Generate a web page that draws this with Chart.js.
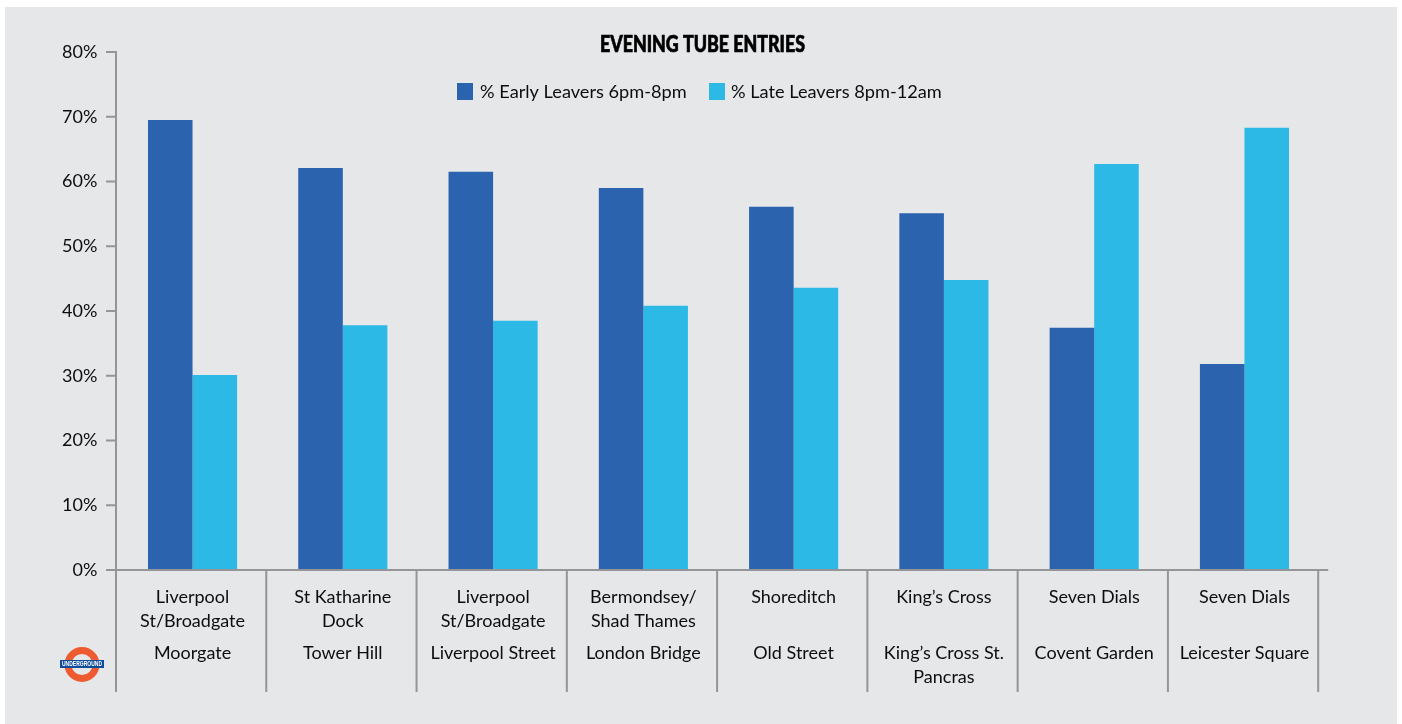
<!DOCTYPE html>
<html>
<head>
<meta charset="utf-8">
<style>
  html, body { margin: 0; padding: 0; background: #ffffff; }
  #panel { position: absolute; left: 5px; top: 7px; width: 1392px; height: 717px; background: #e6e7e9; }
  #wrap { position: absolute; left: 0; top: 0; width: 1402px; height: 724px; }
</style>
<script src="https://cdn.jsdelivr.net/npm/chart.js@4/dist/chart.umd.min.js"></script>
</head>
<body>
<div id="panel"></div>
<div id="wrap"><canvas id="chart" width="1402" height="724"></canvas></div>
<script>
const entryAreas = [
  ['Liverpool', 'St/Broadgate'],
  ['St Katharine', 'Dock'],
  ['Liverpool', 'St/Broadgate'],
  ['Bermondsey/', 'Shad Thames'],
  'Shoreditch',
  'King\u2019s Cross',
  'Seven Dials',
  'Seven Dials'
];
const stations = [
  'Moorgate',
  'Tower Hill',
  'Liverpool Street',
  'London Bridge',
  'Old Street',
  ['King\u2019s Cross St.', 'Pancras'],
  'Covent Garden',
  'Leicester Square'
];
const earlyLeavers = [69.5, 62.1, 61.5, 59.0, 56.1, 55.1, 37.4, 31.8];
const lateLeavers = [30.1, 37.8, 38.5, 40.8, 43.6, 44.8, 62.7, 68.3];
const earlyLabel = '% Early Leavers 6pm-8pm';
const lateLabel = '% Late Leavers 8pm-12am';
const chartTitle = 'EVENING TUBE ENTRIES';

const INK = '#0d0d0d';
const RULE = '#939598';
const LABEL_FAMILY = 'Lato, "Open Sans", sans-serif';

// Axis frame: value axis with outward ticks, baseline, and the dividers between stations.
const axisFrame = {
  id: 'axisFrame',
  afterDatasetsDraw(chart) {
    const { ctx, scales: { x, y } } = chart;
    const shift = -1.4;
    const left = x.left + shift;
    const base = y.getPixelForValue(0);
    ctx.save();
    ctx.strokeStyle = RULE;
    ctx.lineWidth = 2;
    ctx.beginPath();
    ctx.moveTo(left, y.getPixelForValue(80) - 1);
    ctx.lineTo(left, base);
    y.ticks.forEach(t => {
      const py = y.getPixelForValue(t.value);
      ctx.moveTo(left - 10, py);
      ctx.lineTo(left, py);
    });
    ctx.moveTo(left - 10, base);
    ctx.lineTo(x.right + 8.6, base);
    const step = (x.right - x.left) / entryAreas.length;
    for (let i = 0; i <= entryAreas.length; i++) {
      const px = left + step * i;
      ctx.moveTo(px, base);
      ctx.lineTo(px, base + 122);
    }
    ctx.stroke();
    ctx.restore();
  }
};

// Heavy condensed heading, then the single-row key under it.
const headingAndKey = {
  id: 'headingAndKey',
  afterDraw(chart) {
    const { ctx } = chart;
    ctx.save();
    ctx.font = '900 22px ' + LABEL_FAMILY;
    ctx.fillStyle = '#000000';
    ctx.strokeStyle = '#000000';
    ctx.lineWidth = 0.7;
    ctx.textAlign = 'center';
    ctx.textBaseline = 'middle';
    ctx.fillText(chartTitle, 702.5, 45, 205);
    ctx.strokeText(chartTitle, 702.5, 45, 205);

    ctx.font = '18.2px ' + LABEL_FAMILY;
    ctx.textAlign = 'left';
    const rows = [{ i: 0, box: 457, text: 480 }, { i: 1, box: 709, text: 731 }];
    rows.forEach(r => {
      const ds = chart.data.datasets[r.i];
      ctx.fillStyle = ds.backgroundColor;
      ctx.fillRect(r.box, 83, 16, 17);
      ctx.fillStyle = INK;
      ctx.fillText(ds.label, r.text, 92);
    });
    ctx.restore();
  }
};

// Roundel beside the station row.
const roundel = {
  id: 'roundel',
  afterDraw(chart) {
    const { ctx } = chart;
    ctx.save();
    ctx.strokeStyle = '#ee5b30';
    ctx.lineWidth = 7;
    ctx.beginPath();
    ctx.arc(82, 664.5, 14, 0, Math.PI * 2);
    ctx.stroke();
    ctx.fillStyle = '#0f4c9c';
    ctx.fillRect(60, 660, 44, 8);
    ctx.fillStyle = '#ffffff';
    ctx.font = 'bold 6.5px "Liberation Sans", sans-serif';
    ctx.textAlign = 'center';
    ctx.textBaseline = 'middle';
    ctx.fillText('UNDERGROUND', 82, 664.3, 40);
    ctx.restore();
  }
};

new Chart(document.getElementById('chart'), {
  type: 'bar',
  data: {
    labels: entryAreas,
    datasets: [
      { label: earlyLabel, data: earlyLeavers, backgroundColor: '#2b63ae', xAxisID: 'x', barPercentage: 1, categoryPercentage: 0.593 },
      { label: lateLabel, data: lateLeavers, backgroundColor: '#2cb9e6', xAxisID: 'x', barPercentage: 1, categoryPercentage: 0.593 }
    ]
  },
  options: {
    responsive: false,
    animation: false,
    layout: { padding: { left: 0, right: 82.4, top: 52, bottom: 0 } },
    plugins: {
      legend: { display: false },
      tooltip: { enabled: false }
    },
    scales: {
      x: {
        type: 'category',
        position: 'bottom',
        offset: true,
        weight: 1,
        grid: { display: false },
        border: { display: false },
        ticks: {
          color: INK,
          autoSkip: false,
          maxRotation: 0,
          minRotation: 0,
          padding: 7,
          font: { family: LABEL_FAMILY, size: 18, lineHeight: 1.33 }
        },
        afterFit(s) { s.height = 63; }
      },
      x2: {
        type: 'category',
        axis: 'x',
        position: 'bottom',
        labels: stations,
        offset: true,
        weight: 2,
        grid: { display: false },
        border: { display: false },
        ticks: {
          color: INK,
          autoSkip: false,
          maxRotation: 0,
          minRotation: 0,
          padding: 0,
          font: { family: LABEL_FAMILY, size: 18, lineHeight: 1.33 }
        },
        afterFit(s) { s.height = 91; }
      },
      y: {
        min: 0,
        max: 80,
        grid: { display: false },
        border: { display: false },
        ticks: {
          stepSize: 10,
          color: INK,
          padding: 12,
          font: { family: LABEL_FAMILY, size: 18 },
          callback: v => v + '%'
        },
        afterFit(s) { s.width = 117.4; }
      }
    }
  },
  plugins: [axisFrame, headingAndKey, roundel]
});
</script>
</body>
</html>
